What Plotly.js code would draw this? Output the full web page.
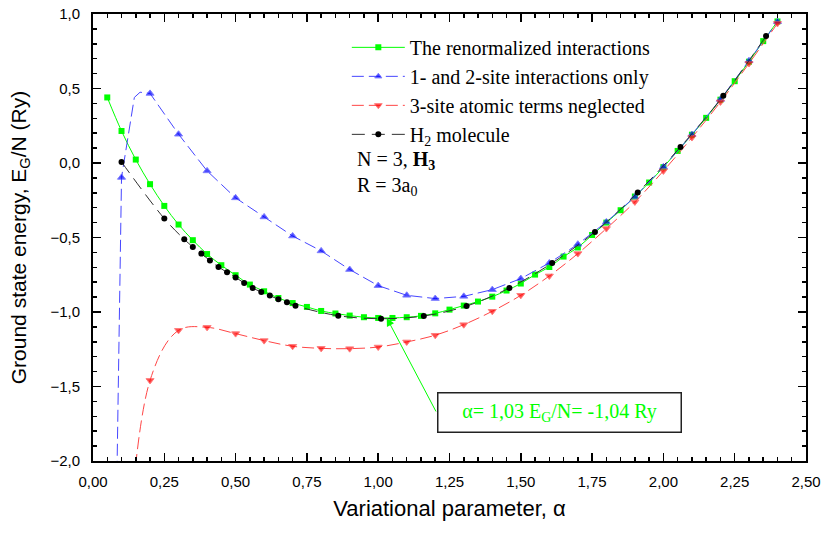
<!DOCTYPE html>
<html><head><meta charset="utf-8">
<script src="https://cdn.plot.ly/plotly-3.0.1.min.js"></script>
<style>html,body{margin:0;padding:0;background:#fff}#chart{width:824px;height:533px}</style>
</head><body><div id="chart"></div>
<script>
// The renormalized interactions (green squares)
const greenX = [0.05,0.10,0.15,0.20,0.25,0.30,0.35,0.40,0.45,0.50,0.55,0.60,0.65,0.70,0.75,0.80,0.85,0.90,0.95,1.00,
  1.05,1.10,1.15,1.20,1.25,1.30,1.35,1.40,1.45,1.50,1.55,1.60,1.65,1.70,1.75,1.80,1.85,1.90,1.95,2.00,
  2.05,2.10,2.15,2.20,2.25,2.30,2.35,2.40];
const greenY = [0.44,0.215,0.023,-0.142,-0.288,-0.413,-0.518,-0.611,-0.686,-0.753,-0.816,-0.861,-0.906,-0.94,-0.966,-0.993,-1.01,-1.024,-1.035,-1.04,
  -1.04,-1.035,-1.026,-1.009,-0.984,-0.957,-0.93,-0.897,-0.856,-0.809,-0.749,-0.698,-0.628,-0.567,-0.483,-0.40,-0.317,-0.225,-0.131,-0.028,
  0.081,0.19,0.303,0.425,0.549,0.68,0.818,0.95];

// 1- and 2-site interactions only (blue triangles)
const blueX = [0.1,0.2,0.3,0.4,0.5,0.6,0.7,0.8,0.9,1.0,1.1,1.2,1.3,1.4,1.5,1.6,1.7,1.8,1.9,2.0,2.1,2.2,2.3,2.4];
const blueY = [-0.097,0.467,0.193,-0.053,-0.234,-0.362,-0.49,-0.59,-0.715,-0.823,-0.888,-0.91,-0.895,-0.85,-0.776,-0.671,-0.545,-0.396,-0.228,-0.026,0.191,0.426,0.686,0.948];
// points of the blue curve that carry no symbol
const blueCurveOnlyX = [0.05,0.145,0.165];
const blueCurveOnlyY = [-6.3,0.44,0.475];

// 3-site atomic terms neglected (red triangles)
const redX = [0.2,0.3,0.4,0.5,0.6,0.7,0.8,0.9,1.0,1.1,1.2,1.3,1.4,1.5,1.6,1.7,1.8,1.9,2.0,2.1,2.2,2.3,2.4];
const redY = [-1.459,-1.123,-1.103,-1.145,-1.192,-1.23,-1.244,-1.246,-1.235,-1.201,-1.156,-1.085,-0.995,-0.888,-0.758,-0.608,-0.44,-0.261,-0.053,0.171,0.41,0.668,0.937];
const redCurveOnlyX = [0.1];
const redCurveOnlyY = [-3.4];

// H2 molecule (black circles)
const blackX = [0.10,0.25,0.32,0.35,0.38,0.41,0.44,0.47,0.50,0.53,0.56,0.59,0.62,0.65,0.68,0.71,0.86,1.01,1.16,1.31,1.46,1.61,1.76,1.91,2.06,2.21,2.36];
const blackY = [0.007,-0.373,-0.512,-0.563,-0.608,-0.655,-0.698,-0.734,-0.768,-0.805,-0.839,-0.866,-0.89,-0.915,-0.935,-0.958,-1.025,-1.045,-1.027,-0.96,-0.839,-0.671,-0.463,-0.198,0.108,0.451,0.852];

const minAlpha = 1.03, minEnergy = -1.04;

const serif = 'Liberation Serif, Times New Roman, serif';
const sans = 'Liberation Sans, Arial, sans-serif';

function merge(mx, my, cx, cy, size) {
  const pts = mx.map((x,i)=>({x:x, y:my[i], s:size}))
    .concat(cx.map((x,i)=>({x:x, y:cy[i], s:0})));
  pts.sort((a,b)=>a.x-b.x);
  return {x:pts.map(p=>p.x), y:pts.map(p=>p.y), s:pts.map(p=>p.s)};
}
const blue = merge(blueX, blueY, blueCurveOnlyX, blueCurveOnlyY, 7);
const red = merge(redX, redY, redCurveOnlyX, redCurveOnlyY, 7);

const traces = [
  {x:greenX, y:greenY, mode:'lines+markers', name:'The renormalized interactions',
   line:{color:'#00ff00', width:1, shape:'spline'},
   marker:{symbol:'square', size:6, color:'#00ff00'}},
  {x:blue.x, y:blue.y, mode:'lines+markers', name:'1- and 2-site interactions only',
   line:{color:'#4646ff', width:1, shape:'linear', dash:'12px,5px'},
   marker:{symbol:'triangle-up', size:blue.s, color:'#0000ff'}},
  {x:red.x, y:red.y, mode:'lines+markers', name:'3-site atomic terms neglected',
   line:{color:'#ff4646', width:1, shape:'spline', dash:'12px,5px'},
   marker:{symbol:'triangle-down', size:red.s, color:'#ff0000'}},
  {x:blackX, y:blackY, mode:'lines+markers', name:'H<sub>2</sub> molecule',
   line:{color:'#303030', width:1, shape:'spline', dash:'13px,7px'},
   marker:{symbol:'circle', size:6, color:'#000000'}}
];

const axisCommon = {
  showline:true, linewidth:2, linecolor:'#000', mirror:'allticks',
  ticks:'inside', ticklen:8, tickwidth:1.5, tickcolor:'#000',
  showgrid:false, zeroline:false,
  tickfont:{family:sans, size:15, color:'#000'}
};

const layout = {
  width:824, height:533,
  margin:{l:93, r:18, t:14, b:72},
  paper_bgcolor:'#fff', plot_bgcolor:'#fff',
  separators:', ',
  showlegend:true,
  legend:{x:0.356, xanchor:'left', y:0.969, yanchor:'top', bgcolor:'rgba(0,0,0,0)', borderwidth:0,
    font:{family:serif, size:20, color:'#000'}, itemwidth:53, tracegroupgap:0},
  xaxis:Object.assign({}, axisCommon, {
    range:[0,2.5], dtick:0.25, tick0:0, tickformat:'.2f', ticklabelstandoff:6,
    minor:{dtick:0.05, ticks:'inside', ticklen:4, tickwidth:1.5, tickcolor:'#000'},
    title:{text:'Variational parameter, α\u00a0\u00a0\u00a0\u00a0\u00a0\u00a0\u00a0', font:{family:sans, size:22, color:'#000'}, standoff:12}
  }),
  yaxis:Object.assign({}, axisCommon, {
    range:[-2,1], dtick:0.5, tick0:0, tickformat:'.1f', ticklabelstandoff:8,
    minor:{dtick:0.1, ticks:'inside', ticklen:4, tickwidth:1.5, tickcolor:'#000'},
    title:{text:'Ground state energy, E<sub>G</sub>/N (Ry)', font:{family:sans, size:21, color:'#000'}, standoff:18}
  }),
  annotations:[
    {xref:'paper', yref:'paper', x:0.367, y:0.672, xanchor:'left', yanchor:'middle', showarrow:false,
     text:'N = 3, <b>H<sub>3</sub></b>', font:{family:serif, size:20, color:'#000'}},
    {xref:'paper', yref:'paper', x:0.367, y:0.613, xanchor:'left', yanchor:'middle', showarrow:false,
     text:'R = 3a<sub>0</sub>', font:{family:serif, size:20, color:'#000'}},
    {xref:'x', yref:'y', x:minAlpha, y:minEnergy, text:'', showarrow:true, ax:50, ay:95,
     arrowhead:2, arrowsize:1.6, arrowwidth:1, arrowcolor:'#00ff00'},
    {xref:'paper', yref:'paper', x:0.654, y:0.1096, xanchor:'center', yanchor:'middle', showarrow:false,
     text:'α= ' + minAlpha.toFixed(2).replace('.', ',') + ' E<sub>G</sub>/N= ' + minEnergy.toFixed(2).replace('.', ',') + ' Ry',
     font:{family:serif, size:20, color:'#00ff00'}, bgcolor:'#fff', bordercolor:'#222', borderwidth:1.5,
     borderpad:8, width:226, height:22}
  ]
};

Plotly.newPlot('chart', traces, layout, {displayModeBar:false, staticPlot:true});
</script>
</body></html>
